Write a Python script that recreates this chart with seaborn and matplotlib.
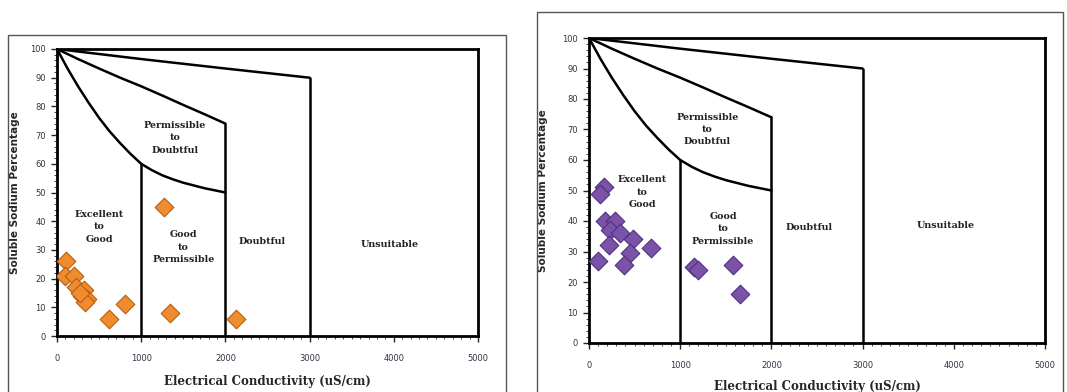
import pandas as pd
import matplotlib.pyplot as plt
import seaborn as sns
from matplotlib.patches import Rectangle
from matplotlib.ticker import MultipleLocator

sns.set_style('white')
plt.rcParams['font.family'] = ['DejaVu Sans']

# boundary curves of the Wilcox diagram
c1_x = [0, 1000, 2000, 3000]
c1_y = [100, 96.5, 93.2, 90]
c2_x = [0, 250, 500, 750, 1000, 1250, 1500, 1750, 2000]
c2_y = [100, 96.5, 93.2, 90, 87, 83.8, 80.5, 77.3, 74]
c3_x = [0, 125, 250, 375, 500, 625, 750, 875, 1000, 1125, 1250, 1375, 1500, 1750, 2000]
c3_y = [100, 93.2, 87, 81.3, 76, 71.3, 67.2, 63.4, 60, 57.8, 56, 54.6, 53.4, 51.5, 50]
v_x = [1000, 2000, 3000]
v_top = [60, 74, 90]

# samples, first panel
ec_a = [110, 100, 200, 230, 320, 300, 360, 330, 270, 620, 810, 1270, 1340, 2130]
ssp_a = [26, 21, 21, 17, 16, 14, 13, 12, 15, 6, 11, 45, 8, 6]
# samples, second panel
ec_b = [165, 125, 170, 290, 225, 340, 485, 215, 680, 445, 100, 380, 1150, 1200, 1580, 1660]
ssp_b = [51, 49, 40, 40, 37, 36, 34, 32, 31, 29.5, 27, 25.5, 25, 24, 25.7, 16]

labels = ['Permissible\nto\nDoubtful', 'Excellent\nto\nGood', 'Good\nto\nPermissible', 'Doubtful', 'Unsuitable']
pos_a = [(1400, 69), (500, 38), (1500, 31), (2430, 33), (3950, 32)]
pos_b = [(1300, 70), (580, 49.5), (1470, 37.5), (2410, 38), (3910, 38.5)]

fig = plt.figure(figsize=(10.67, 3.92), dpi=100)

# grey panel frames
fig.patches.append(Rectangle((8 / 1067, -0.05), 498 / 1067, 1 - 35 / 392 + 0.05,
                             transform=fig.transFigure, fill=False, ec='#555555', lw=1))
fig.patches.append(Rectangle((537 / 1067, -0.05), 526 / 1067, 1 - 12 / 392 + 0.05,
                             transform=fig.transFigure, fill=False, ec='#555555', lw=1))

ax1 = fig.add_axes([57 / 1067, 1 - 336 / 392, 421 / 1067, 287 / 392])
ax2 = fig.add_axes([589 / 1067, 1 - 343 / 392, 456 / 1067, 305 / 392])


def draw(ax, ec, ssp, color, edge, pos, ylab_x, xlab_y):
    ax.plot(c1_x, c1_y, color='black', lw=1.8)
    ax.plot(c2_x, c2_y, color='black', lw=1.8)
    ax.plot(c3_x, c3_y, color='black', lw=1.8)
    for x, t in zip(v_x, v_top):
        ax.plot([x, x], [0, t], color='black', lw=1.8)
    df = pd.DataFrame({'ec': ec, 'ssp': ssp})
    sns.scatterplot(data=df, x='ec', y='ssp', ax=ax, marker='D', s=90,
                    color=color, edgecolor=edge, linewidth=0.8, zorder=5)
    for lab, (x, y) in zip(labels, pos):
        ax.text(x, y, lab, ha='center', va='center', fontsize=6.8, fontweight='bold',
                family='DejaVu Serif', color='#222222', linespacing=1.5)
    ax.set_xlim(0, 5000)
    ax.set_ylim(0, 100)
    ax.xaxis.set_major_locator(MultipleLocator(1000))
    ax.xaxis.set_minor_locator(MultipleLocator(100))
    ax.yaxis.set_major_locator(MultipleLocator(10))
    ax.yaxis.set_minor_locator(MultipleLocator(2))
    ax.tick_params(axis='both', which='major', direction='out', length=4, width=1,
                   labelsize=6, labelcolor='#333344', bottom=True, left=True)
    ax.tick_params(axis='x', which='major', pad=9)
    ax.tick_params(axis='y', which='major', pad=4)
    ax.tick_params(axis='both', which='minor', direction='out', length=2, width=0.6,
                   bottom=True, left=True)
    for s in ax.spines.values():
        s.set_color('black')
        s.set_linewidth(2)
    ax.set_xlabel('Electrical Conductivity (uS/cm)', fontsize=8.5, fontweight='bold',
                  family='DejaVu Serif')
    ax.set_ylabel('Soluble Sodium Percentage', fontsize=7.5, fontweight='bold')
    ax.yaxis.set_label_coords(ylab_x, 0.5)
    ax.xaxis.set_label_coords(0.5, xlab_y)


draw(ax1, ec_a, ssp_a, '#F08C2E', '#B85E10', pos_a, -0.088, -0.136)
draw(ax2, ec_b, ssp_b, '#7A52A8', '#523080', pos_b, -0.09, -0.12)

fig.savefig('out.png', dpi=100)
